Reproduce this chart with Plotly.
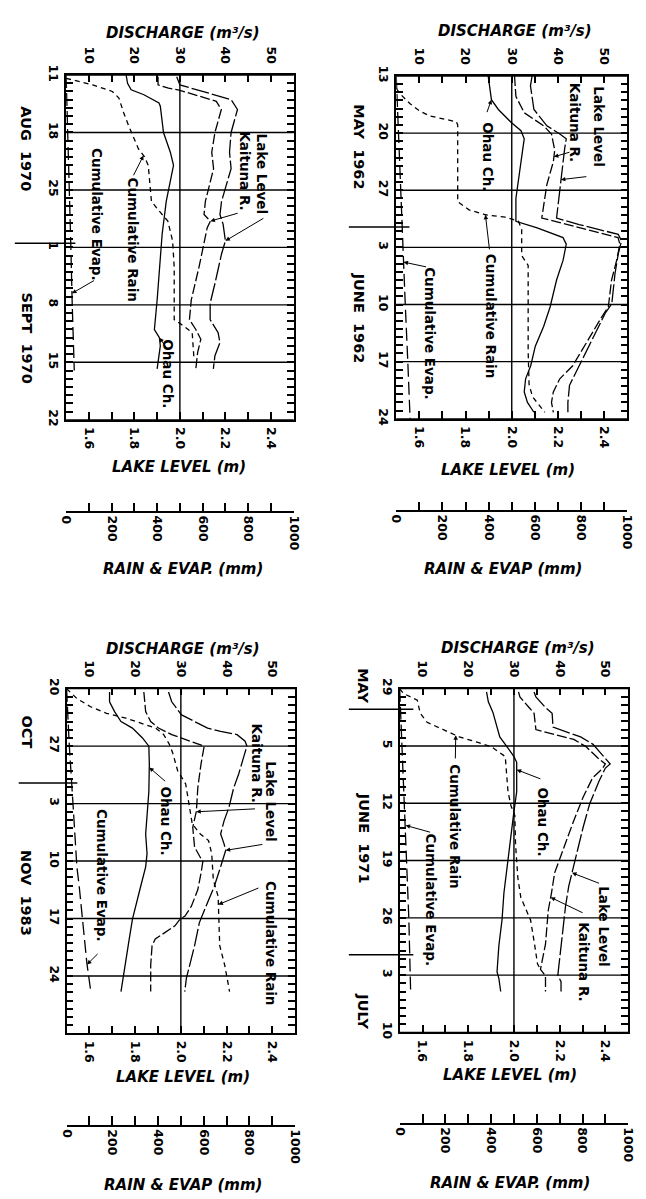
import numpy as np
import pandas as pd
import plotly.graph_objects as go

W, H = 646, 1199

# ---------------- shared tick labels ----------------
LAKE_TICKS = [1.6, 1.8, 2.0, 2.2, 2.4]
DISCHARGE_TICKS = [10, 20, 30, 40, 50]
RAIN_TICKS = [0, 200, 400, 600, 800, 1000]

# ---------------- Panel: AUG-SEPT 1970 (days after start) ----------------
P70_START, P70_END = '1970-08-11', '1970-09-22'
P70_DATE_TICKS = ['1970-08-11', '1970-08-18', '1970-08-25', '1970-09-01',
                  '1970-09-08', '1970-09-15', '1970-09-22']
P70_LAKE_DAY = [0.2, 1.2, 3.0, 4.2, 7.0, 9.4, 11.4, 15.4, 17.0, 18.2, 20.2, 21.8, 25.4, 27.8, 29.8, 31.4, 32.6, 34.2, 35.8]
P70_LAKE = [1.986, 2.0, 2.225, 2.253, 2.225, 2.218, 2.225, 2.183, 2.176, 2.19, 2.2, 2.183, 2.154, 2.133, 2.133, 2.168, 2.176, 2.154, 2.147]
P70_KAI_DAY = [0.2, 1.2, 1.6, 1.8, 3.2, 4.2, 7.0, 9.4, 11.4, 15.4, 17.0, 17.8, 18.6, 23.4, 27.4, 29.8, 31.0, 32.2, 33.8, 35.8]
P70_KAI = [25.2, 25.2, 27.5, 29.6, 38.0, 39.1, 37.7, 37.0, 37.4, 35.6, 35.3, 36.7, 36.0, 34.2, 32.5, 32.1, 33.5, 34.6, 33.9, 33.5]
P70_OHAU_DAY = [0.0, 1.0, 1.8, 2.4, 3.4, 3.8, 7.0, 9.4, 11.0, 13.0, 15.4, 19.4, 23.4, 27.4, 31.0, 32.0, 33.0, 35.8]
P70_OHAU = [18.2, 18.5, 19.3, 22.1, 25.4, 25.7, 26.4, 27.9, 28.6, 27.9, 27.0, 26.1, 25.6, 25.0, 24.4, 25.5, 25.7, 25.0]
P70_RAIN_DAY = [0.4, 1.2, 2.0, 2.8, 4.6, 6.2, 9.0, 9.9, 11.0, 13.8, 15.4, 16.4, 17.8, 20.2, 23.4, 29.8, 30.6, 31.4, 33.4, 34.6]
P70_RAIN = [0, 117, 203, 232, 253, 275, 318, 343, 361, 368, 375, 404, 447, 468, 475, 475, 518, 554, 561, 562]
P70_EVAP_DAY = [0, 7, 14, 21, 28, 36]
P70_EVAP = [0, 8, 15, 21, 27, 36]

# ---------------- Panel: MAY-JUNE 1962 ----------------
P62_START, P62_END = '1962-05-13', '1962-06-24'
P62_DATE_TICKS = ['1962-05-13', '1962-05-20', '1962-05-27', '1962-06-03',
                  '1962-06-10', '1962-06-17', '1962-06-24']
P62_LAKE_DAY = [0.0, 1.2, 4.1, 6.1, 7.1, 7.7, 8.9, 12.1, 17.4, 18.2, 19.4, 20.2, 21.8, 24.2, 27.9, 29.1, 30.7, 32.3, 34.7, 36.3, 37.9, 40.0, 41.2]
P62_LAKE = [2.088, 2.081, 2.096, 2.152, 2.208, 2.236, 2.229, 2.215, 2.194, 2.292, 2.461, 2.475, 2.461, 2.447, 2.433, 2.404, 2.376, 2.348, 2.306, 2.278, 2.25, 2.243, 2.243]
P62_KAI_DAY = [0.0, 2.5, 4.5, 6.1, 7.1, 8.5, 9.1, 10.5, 13.3, 17.4, 17.8, 18.8, 19.8, 20.6, 22.6, 25.0, 28.3, 29.5, 31.5, 33.5, 35.5, 37.1, 38.7, 40.0, 41.2]
P62_KAI = [30.6, 30.9, 32.7, 36.9, 38.6, 39.0, 39.3, 39.0, 37.6, 36.5, 39.3, 46.0, 53.0, 53.4, 52.7, 51.6, 50.9, 49.5, 47.4, 45.3, 43.2, 40.4, 39.0, 38.6, 39.0]
P62_OHAU_DAY = [0.0, 1.6, 2.9, 4.1, 5.7, 6.7, 7.7, 9.3, 12.1, 15.0, 17.8, 18.6, 19.8, 20.6, 22.6, 25.0, 28.3, 30.7, 33.1, 35.5, 37.1, 38.7, 40.0, 41.2]
P62_OHAU = [24.9, 25.3, 25.6, 27.1, 29.9, 32.0, 32.7, 32.3, 31.6, 30.9, 30.9, 35.5, 41.1, 41.8, 41.1, 39.7, 38.3, 36.9, 35.1, 34.1, 33.0, 32.7, 33.4, 34.8]
P62_RAIN_DAY = [1.5, 2.2, 3.4, 4.3, 4.9, 5.6, 6.0, 15.4, 16.4, 17.0, 17.3, 17.8, 18.8, 22.0, 22.6, 23.2, 33.7, 37.8, 39.3, 40.4, 41.2]
P62_RAIN = [0, 17, 60, 102, 145, 260, 266, 266, 315, 386, 472, 529, 543, 543, 557, 571, 571, 575, 590, 620, 643]
P62_EVAP_DAY = [0, 7, 14, 21, 28, 35, 42]
P62_EVAP = [0, 9, 19, 29, 39, 50, 60]

# ---------------- Panel: OCT-NOV 1983 ----------------
P83_START, P83_END = '1983-10-20', '1983-12-01'
P83_DATE_TICKS = ['1983-10-20', '1983-10-27', '1983-11-03', '1983-11-10',
                  '1983-11-17', '1983-11-24']
P83_LAKE_DAY = [0.4, 1.6, 3.2, 4.2, 4.8, 5.2, 5.6, 6.4, 7.0, 8.4, 10.4, 12.1, 14.5, 16.1, 17.7, 18.9, 19.7, 21.7, 24.1, 26.5, 28.5, 31.3, 33.7, 35.3, 36.9]
P83_LAKE = [1.946, 1.96, 2.003, 2.07, 2.117, 2.174, 2.246, 2.281, 2.289, 2.274, 2.253, 2.231, 2.21, 2.189, 2.174, 2.189, 2.196, 2.174, 2.146, 2.11, 2.081, 2.06, 2.039, 2.024, 2.017]
P83_KAI_DAY = [0.4, 2.8, 4.0, 4.8, 5.6, 6.2, 6.8, 7.0, 9.2, 12.1, 14.9, 16.9, 19.3, 20.5, 21.1, 22.5, 24.5, 26.5, 27.7, 28.1, 28.9, 30.5, 31.3, 33.7, 36.9]
P83_KAI = [21.9, 22.3, 23.4, 25.1, 28.0, 30.9, 33.7, 35.1, 34.4, 33.7, 33.4, 32.6, 33.0, 34.1, 34.8, 34.4, 33.7, 32.3, 30.9, 29.8, 28.7, 24.4, 23.7, 23.4, 23.4]
P83_OHAU_DAY = [0.4, 1.6, 2.8, 4.0, 4.8, 6.0, 7.0, 9.2, 12.5, 15.3, 17.7, 20.1, 21.7, 24.1, 26.5, 28.1, 30.5, 32.9, 35.3, 36.9]
P83_OHAU = [14.4, 14.4, 15.5, 16.9, 19.4, 21.6, 23.0, 23.1, 23.0, 22.6, 22.3, 22.6, 22.3, 21.2, 20.1, 19.4, 18.7, 18.0, 17.3, 16.9]
P83_RAIN_DAY = [0.0, 1.2, 2.2, 3.0, 3.6, 4.2, 4.8, 5.6, 6.8, 7.8, 10.0, 11.6, 12.9, 15.3, 16.5, 17.7, 18.5, 19.3, 20.1, 23.3, 25.3, 31.3, 33.7, 36.9]
P83_RAIN = [0, 45, 105, 175, 260, 330, 390, 425, 450, 464, 486, 521, 528, 543, 550, 585, 621, 628, 635, 642, 663, 670, 692, 713]
P83_EVAP_DAY = [0, 7, 14, 21.7, 24, 28, 33.5, 36.9]
P83_EVAP = [0, 12, 28, 45, 55, 68, 89, 106]

# ---------------- Panel: MAY-JULY 1971 ----------------
P71_START, P71_END = '1971-05-29', '1971-07-10'
P71_DATE_TICKS = ['1971-05-29', '1971-06-05', '1971-06-12', '1971-06-19',
                  '1971-06-26', '1971-07-03', '1971-07-10']
P71_LAKE_DAY = [0.4, 1.0, 2.3, 3.0, 4.7, 5.9, 6.8, 8.6, 9.2, 9.7, 11.3, 14.1, 16.9, 20.1, 22.5, 24.1, 26.5, 29.8, 33.0, 35.0, 35.8, 37.0]
P71_LAKE = [2.088, 2.096, 2.138, 2.167, 2.171, 2.292, 2.346, 2.4, 2.421, 2.4, 2.372, 2.331, 2.303, 2.275, 2.254, 2.24, 2.226, 2.213, 2.199, 2.192, 2.206, 2.206]
P71_KAI_DAY = [0.4, 1.0, 2.3, 3.0, 5.0, 5.6, 6.2, 7.1, 8.6, 9.2, 9.8, 10.9, 13.3, 16.1, 19.3, 22.5, 25.0, 27.1, 31.2, 34.3, 35.1, 37.0]
P71_KAI = [31.0, 31.3, 33.3, 34.4, 34.8, 39.0, 43.1, 45.8, 48.6, 50.0, 49.3, 47.2, 45.1, 43.1, 41.0, 38.9, 38.2, 37.5, 36.9, 35.8, 36.9, 36.9]
P71_OHAU_DAY = [0.4, 1.6, 2.9, 4.2, 5.9, 7.1, 8.3, 9.0, 12.6, 15.0, 18.5, 21.7, 25.0, 28.2, 31.4, 33.8, 34.6, 35.4, 37.0]
P71_OHAU = [24.0, 24.4, 25.4, 26.0, 26.9, 28.5, 30.0, 30.6, 30.6, 30.0, 29.2, 28.5, 27.8, 27.4, 26.7, 26.4, 26.3, 26.7, 27.1]
P71_RAIN_DAY = [0.0, 0.6, 1.4, 3.0, 4.1, 4.8, 5.9, 6.6, 7.1, 8.3, 9.5, 12.6, 14.3, 15.5, 19.0, 23.1, 25.5, 28.3, 31.2, 33.6, 34.3]
P71_RAIN = [0, 17, 77, 90, 120, 175, 261, 346, 402, 462, 466, 474, 487, 504, 507, 517, 530, 573, 590, 603, 616]
P71_EVAP_DAY = [0, 7, 14, 21, 28, 37]
P71_EVAP = [0, 10, 22, 32, 40, 48]

# ---------------- styling / layout (positions in page pixels) ----------------
def PX(x):
    return x / W


def PY(y):
    return 1 - y / H


AX_RANGES = [(1.5, 2.5), (5, 55), (0, 1000)]
AX_STEPS = [0.1, 5, 100]              # spacing of unlabelled tick marks
AX_LABELS = [LAKE_TICKS, DISCHARGE_TICKS, RAIN_TICKS]
AX_FMT = ['{:.1f}', '{:g}', '{:g}']
SERIES = {
    'lake': ('Lake Level', 0, '18px,3px'),
    'kai': ('Kaituna R.', 1, '10px,3px'),
    'ohau': ('Ohau Ch.', 1, 'solid'),
    'rain': ('Cumulative Rain', 2, '5px,4px'),
    'evap': ('Cumulative Evap.', 2, '13px,5px'),
}

PANELS = [
    dict(start=P70_START, end=P70_END, ticks=P70_DATE_TICKS,
         data=dict(lake=(P70_LAKE_DAY, P70_LAKE), kai=(P70_KAI_DAY, P70_KAI), ohau=(P70_OHAU_DAY, P70_OHAU),
                   rain=(P70_RAIN_DAY, P70_RAIN), evap=(P70_EVAP_DAY, P70_EVAP)),
         box=(60.5, 293.5, 65, 415), rain_y=509,
         titles=[('DISCHARGE (m³/s)', 180, 22), ('LAKE LEVEL (m)', 176, 463), ('RAIN & EVAP. (mm)', 180, 567)],
         months=[('AUG  1970', 20, 140), ('SEPT  1970', 20, 332)],
         dividers=[('1970-08-31 12:00', 8, 70)],
         labels=dict(lake=(262, 166), kai=(244, 162), rain=(130, 232), evap=(92, 207), ohau=(164, 368)),
         arrows=dict(lake=(20.2, 263, 210), kai=(17.8, 237, 205), ohau=(32.0, 164, 343),
                     rain=(9.8, 129, 168), evap=(26.6, 90, 273))),
    dict(start=P62_START, end=P62_END, ticks=P62_DATE_TICKS,
         data=dict(lake=(P62_LAKE_DAY, P62_LAKE), kai=(P62_KAI_DAY, P62_KAI), ohau=(P62_OHAU_DAY, P62_OHAU),
                   rain=(P62_RAIN_DAY, P62_RAIN), evap=(P62_EVAP_DAY, P62_EVAP)),
         box=(398.5, 635, 66, 414), rain_y=508,
         titles=[('DISCHARGE (m³/s)', 520, 20), ('LAKE LEVEL (m)', 513, 466), ('RAIN & EVAP (mm)', 508, 567)],
         months=[('MAY  1962', 360, 138), ('JUNE  1962', 360, 312)],
         dividers=[('1962-05-31 12:00', 350, 412)],
         labels=dict(lake=(606, 118), kai=(581, 113), ohau=(493, 148), rain=(495, 309), evap=(433, 328)),
         arrows=dict(ohau=(2.9, 491, 104), kai=(9.9, 577, 143), lake=(12.7, 594, 168),
                     rain=(17.0, 494, 243), evap=(22.8, 430, 260))),
    dict(start=P83_START, end=P83_END, ticks=P83_DATE_TICKS,
         data=dict(lake=(P83_LAKE_DAY, P83_LAKE), kai=(P83_KAI_DAY, P83_KAI), ohau=(P83_OHAU_DAY, P83_OHAU),
                   rain=(P83_RAIN_DAY, P83_RAIN), evap=(P83_EVAP_DAY, P83_EVAP)),
         box=(61, 295, 688, 1038), rain_y=1132,
         titles=[('DISCHARGE (m³/s)', 180, 648), ('LAKE LEVEL (m)', 180, 1082), ('RAIN & EVAP (mm)', 180, 1192)],
         months=[('OCT', 20, 732), ('NOV  1983', 20, 895)],
         dividers=[('1983-10-31 12:00', 12, 72)],
         labels=dict(lake=(270, 803), kai=(256, 763), ohau=(163, 822), rain=(270, 946), evap=(97, 878)),
         arrows=dict(kai=(15.0, 254, 810), lake=(19.7, 262, 846), ohau=(9.6, 163, 783),
                     rain=(26.3, 258, 890), evap=(33.6, 94, 956))),
    dict(start=P71_START, end=P71_END, ticks=P71_DATE_TICKS,
         data=dict(lake=(P71_LAKE_DAY, P71_LAKE), kai=(P71_KAI_DAY, P71_KAI), ohau=(P71_OHAU_DAY, P71_OHAU),
                   rain=(P71_RAIN_DAY, P71_RAIN), evap=(P71_EVAP_DAY, P71_EVAP)),
         box=(402, 636, 688, 1037), rain_y=1130,
         titles=[('DISCHARGE (m³/s)', 523, 647), ('LAKE LEVEL (m)', 515, 1080), ('RAIN & EVAP. (mm)', 515, 1190)],
         months=[('MAY', 365, 685), ('JUNE  1971', 365, 840), ('JULY', 365, 1015)],
         dividers=[('1971-05-31 12:00', 350, 416), ('1971-06-30 12:00', 350, 416)],
         labels=dict(lake=(611, 930), kai=(591, 965), ohau=(549, 823), rain=(459, 828), evap=(434, 903)),
         arrows=dict(ohau=(9.9, 547, 780), rain=(5.7, 459, 760), evap=(16.7, 434, 834),
                     lake=(22.5, 607, 886), kai=(25.5, 590, 916))),
]

FAM = 'DejaVu Sans'
TICKFONT = dict(family=FAM, size=12.5, color='black', weight='bold')
TITLEFONT = dict(family=FAM, size=15, color='black', weight='bold', style='italic')
MONTHFONT = dict(family=FAM, size=14.5, color='black', weight='bold')
LABELFONT = dict(family=FAM, size=13.5, color='black', weight='bold')
INK = 'black'
TICKW = 1.5


def axname(letter, n):
    return letter if n == 1 else f'{letter}{n}'


def value_ticks(ai):
    lo, hi = AX_RANGES[ai]
    step = AX_STEPS[ai]
    vals = [round(float(v), 6) for v in np.arange(lo, hi + step / 2, step)]
    labelled = {round(float(v), 6) for v in AX_LABELS[ai]}
    text = [AX_FMT[ai].format(v) if v in labelled else '' for v in vals]
    return vals, text


fig = go.Figure()
layout = dict(width=W, height=H, margin=dict(l=0, r=0, t=0, b=0),
              paper_bgcolor='white', plot_bgcolor='white', showlegend=False)
shapes, annotations = [], []

for i, pn in enumerate(PANELS):
    left, right, top, bottom = pn['box']
    xn = [3 * i + 1, 3 * i + 2, 3 * i + 3]
    xref = [axname('x', n) for n in xn]
    yref = axname('y', i + 1)
    start = pd.Timestamp(pn['start'])
    end = pd.Timestamp(pn['end'])
    ndays = (end - start).days

    tv, tt = value_ticks(0)
    layout['xaxis' + ('' if xn[0] == 1 else str(xn[0]))] = dict(
        domain=[PX(left), PX(right)], anchor=yref, range=list(AX_RANGES[0]),
        tickmode='array', tickvals=tv, ticktext=tt, tickangle=90, tickfont=TICKFONT,
        ticks='inside', ticklen=8, tickwidth=TICKW, tickcolor=INK, ticklabelstandoff=3,
        showline=True, linecolor=INK, linewidth=1.5, showgrid=False, zeroline=False)
    tv, tt = value_ticks(1)
    layout[f'xaxis{xn[1]}'] = dict(
        overlaying=xref[0], anchor=yref, side='top', range=list(AX_RANGES[1]),
        tickmode='array', tickvals=tv, ticktext=tt, tickangle=90, tickfont=TICKFONT,
        ticks='inside', ticklen=7, tickwidth=TICKW, tickcolor=INK, ticklabelstandoff=5,
        showline=True, linecolor=INK, linewidth=1.5, showgrid=False, zeroline=False)
    tv, tt = value_ticks(2)
    layout[f'xaxis{xn[2]}'] = dict(
        overlaying=xref[0], anchor='free', position=PY(pn['rain_y']), side='bottom',
        range=list(AX_RANGES[2]), tickmode='array', tickvals=tv, ticktext=tt, tickangle=90,
        tickfont=TICKFONT, ticks='inside', ticklen=9, tickwidth=TICKW, tickcolor=INK,
        showline=True, linecolor=INK, linewidth=1.5, showgrid=False, zeroline=False)

    day_list = pd.date_range(start, end, freq='D')
    labelled_days = set(pd.to_datetime(pn['ticks']))
    layout['yaxis' + ('' if i == 0 else str(i + 1))] = dict(
        domain=[PY(bottom), PY(top)], anchor=xref[0], type='date', range=[pn['end'], pn['start']],
        tickmode='array', tickvals=list(day_list),
        ticktext=[str(d.day) if d in labelled_days else '' for d in day_list],
        tickangle=90, tickfont=TICKFONT,
        ticks='inside', ticklen=7, tickcolor=INK, tickwidth=TICKW,
        showline=True, linecolor=INK, linewidth=1.5, mirror='ticks',
        showgrid=False, zeroline=False)

    # weekly reference lines
    for dt in pn['ticks']:
        shapes.append(dict(type='line', xref=f'{xref[0]} domain', x0=0, x1=1, yref=yref, y0=dt, y1=dt,
                           line=dict(color=INK, width=1.4), layer='below'))

    # series
    for key, (name, ai, dash) in SERIES.items():
        days, vals = pn['data'][key]
        dates = start + pd.to_timedelta(np.array(days, dtype=float), unit='D')
        fig.add_trace(go.Scatter(x=vals, y=dates, xaxis=xref[ai], yaxis=yref, mode='lines', name=name,
                                 line=dict(color=INK, width=1.3, dash=dash), hoverinfo='skip'))

    # lake level 2.0 m reference line
    shapes.append(dict(type='line', xref=xref[0], x0=2.0, x1=2.0, yref=f'{yref} domain', y0=0, y1=1,
                       line=dict(color=INK, width=1.4), layer='below'))
    # month dividers
    for dt, x0, x1 in pn['dividers']:
        shapes.append(dict(type='line', xref='paper', x0=PX(x0), x1=PX(x1), yref=yref, y0=dt, y1=dt,
                           line=dict(color=INK, width=1.5)))

    for text, cx, cy in pn['titles']:
        annotations.append(dict(text=text, x=PX(cx), y=PY(cy), xref='paper', yref='paper', showarrow=False,
                                font=TITLEFONT, xanchor='center', yanchor='middle'))
    for text, cx, cy in pn['months']:
        annotations.append(dict(text=text, x=PX(cx), y=PY(cy), xref='paper', yref='paper', showarrow=False,
                                textangle=90, font=MONTHFONT, xanchor='center', yanchor='middle'))
    for key, (cx, cy) in pn['labels'].items():
        annotations.append(dict(text=SERIES[key][0], x=PX(cx), y=PY(cy), xref='paper', yref='paper',
                                showarrow=False, textangle=90, font=LABELFONT,
                                xanchor='center', yanchor='middle'))
    for key, (day, tx, ty) in pn['arrows'].items():
        name, ai, _ = SERIES[key]
        days, vals = pn['data'][key]
        val = float(np.interp(day, days, vals))
        lo, hi = AX_RANGES[ai]
        hx = left + (val - lo) / (hi - lo) * (right - left)
        hy = top + day / ndays * (bottom - top)
        annotations.append(dict(text='', x=val, y=start + pd.Timedelta(days=day), xref=xref[ai], yref=yref,
                                showarrow=True, ax=tx - hx, ay=ty - hy, arrowhead=2, arrowsize=0.9,
                                arrowwidth=1, arrowcolor=INK, standoff=0))

layout['shapes'] = shapes
layout['annotations'] = annotations
fig.update_layout(**layout)
fig.write_html('out.html')
